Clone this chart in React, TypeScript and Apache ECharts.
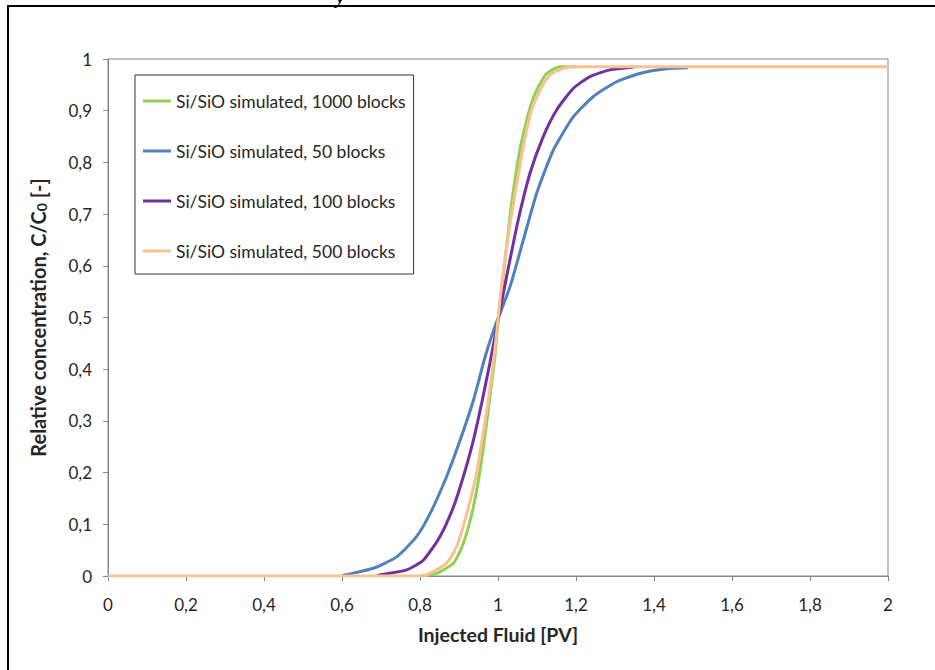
import React, { useEffect, useRef } from "react";
import * as echarts from "echarts";

const seriesNames = [
  "Si/SiO simulated, 1000 blocks",
  "Si/SiO simulated, 50 blocks",
  "Si/SiO simulated, 100 blocks",
  "Si/SiO simulated, 500 blocks",
];
const seriesColors = ["#92D050", "#4F81BD", "#7030A0", "#FAC090"];

const green1000X = [0.8, 0.843, 0.886, 0.911, 0.937, 0.958, 0.975, 0.992, 1.001, 1.018, 1.035, 1.056, 1.078, 1.099, 1.125, 1.159, 1.2];
const green1000Y = [0, 0.005, 0.025, 0.063, 0.134, 0.224, 0.321, 0.424, 0.5, 0.611, 0.721, 0.824, 0.895, 0.94, 0.972, 0.985, 0.985];

const blue50X = [0.6, 0.608, 0.68, 0.74, 0.791, 0.826, 0.868, 0.903, 0.937, 0.967, 0.992, 1.031, 1.065, 1.099, 1.142, 1.193, 1.244, 1.304, 1.364, 1.432, 1.487];
const blue50Y = [0, 0.002, 0.015, 0.037, 0.076, 0.121, 0.192, 0.263, 0.34, 0.424, 0.482, 0.56, 0.65, 0.74, 0.824, 0.888, 0.927, 0.956, 0.972, 0.981, 0.983];

const purple100X = [0.69, 0.697, 0.766, 0.809, 0.851, 0.886, 0.911, 0.937, 0.958, 0.979, 0.997, 1.022, 1.052, 1.082, 1.116, 1.15, 1.193, 1.236, 1.287, 1.347];
const purple100Y = [0, 0.002, 0.012, 0.031, 0.076, 0.134, 0.192, 0.263, 0.334, 0.411, 0.482, 0.579, 0.689, 0.779, 0.85, 0.901, 0.943, 0.966, 0.979, 0.984];

const orange500X = [0, 0.8, 0.817, 0.868, 0.894, 0.92, 0.945, 0.962, 0.979, 0.992, 1.005, 1.022, 1.044, 1.065, 1.086, 1.108, 1.133, 1.167, 1.21, 2.0];
const orange500Y = [0, 0, 0.002, 0.025, 0.057, 0.121, 0.199, 0.276, 0.36, 0.437, 0.534, 0.637, 0.74, 0.83, 0.901, 0.94, 0.969, 0.982, 0.985, 0.985];

const xs = [green1000X, blue50X, purple100X, orange500X];
const ys = [green1000Y, blue50Y, purple100Y, orange500Y];

const fmt = (v: number) => String(Math.round(v * 10) / 10).replace(".", ",");

export default function App() {
  const ref = useRef<HTMLDivElement>(null);
  useEffect(() => {
    if (!ref.current) return;
    const chart = echarts.init(ref.current, null, { renderer: "svg" });
    const axisColor = "#868686";
    const textColor = "#262626";
    chart.setOption({
      animation: false,
      backgroundColor: "#ffffff",
      textStyle: { fontFamily: "Lato" },
      grid: {
        left: 108,
        top: 59,
        right: 47,
        bottom: 94,
        show: true,
        borderColor: axisColor,
        borderWidth: 1,
      },
      graphic: [
        {
          type: "rect",
          shape: { x: 8, y: 6, width: 1000, height: 1000 },
          style: { fill: "none", stroke: "#000", lineWidth: 2 },
          silent: true,
        },
        {
          type: "text",
          x: 336,
          y: -14,
          style: {
            text: "y",
            font: "italic bold 20px 'Liberation Serif'",
            fill: "#000",
          },
          silent: true,
        },
      ],
      legend: {
        orient: "vertical",
        left: 135,
        top: 75,
        padding: [16, 8, 13, 8],
        itemGap: 30,
        itemWidth: 28,
        itemHeight: 3,
        icon: "rect",
        borderColor: "#333",
        borderWidth: 1,
        data: seriesNames,
        textStyle: { fontFamily: "Lato", fontSize: 17.5, color: textColor, lineHeight: 20 },
      },
      xAxis: {
        type: "value",
        min: 0,
        max: 2,
        interval: 0.2,
        name: "Injected Fluid [PV]",
        nameLocation: "middle",
        nameGap: 48,
        nameTextStyle: { fontFamily: "Lato", fontSize: 19.5, fontWeight: "bold", color: textColor },
        axisLine: { lineStyle: { color: axisColor, width: 1 } },
        axisTick: { show: true, inside: false, length: 5, lineStyle: { color: axisColor } },
        axisLabel: { formatter: fmt, fontSize: 17, color: textColor, margin: 20, fontFamily: "Lato" },
        splitLine: { show: false },
      },
      yAxis: {
        type: "value",
        min: 0,
        max: 1,
        interval: 0.1,
        name: "{a|Relative concentration, C/C}{s|0}{a| [-]}",
        nameLocation: "middle",
        nameGap: 60,
        nameRotate: 90,
        nameTextStyle: {
          color: textColor,
          rich: {
            a: { fontFamily: "Lato", fontSize: 20, fontWeight: "bold", color: textColor, lineHeight: 24, verticalAlign: "bottom" },
            s: { fontFamily: "Lato", fontSize: 14, fontWeight: "bold", color: textColor, lineHeight: 6, verticalAlign: "bottom" },
          },
        },
        axisLine: { show: true, lineStyle: { color: axisColor, width: 1 } },
        axisTick: { show: true, inside: false, length: 5, lineStyle: { color: axisColor } },
        axisLabel: { formatter: fmt, fontSize: 17, color: textColor, margin: 16, fontFamily: "Lato" },
        splitLine: { show: false },
      },
      series: seriesNames.map((name, i) => ({
        name,
        type: "line",
        data: xs[i].map((x, j) => [x, ys[i][j]]),
        showSymbol: false,
        symbol: "none",
        smooth: 0.2,
        lineStyle: { color: seriesColors[i], width: 3 },
        itemStyle: { color: seriesColors[i] },
        z: 2 + i,
      })),
    });
    return () => chart.dispose();
  }, []);
  return (
    <div
      ref={ref}
      style={{ position: "absolute", left: 0, top: 0, width: 935, height: 670, background: "#fff" }}
    />
  );
}
